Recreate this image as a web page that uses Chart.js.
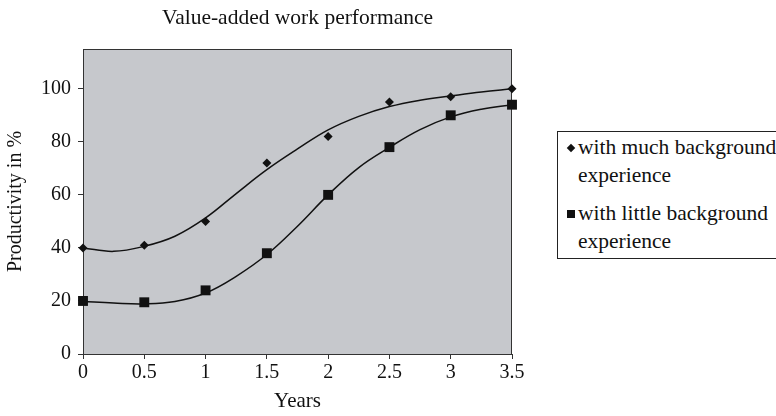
<!DOCTYPE html>
<html>
<head>
<meta charset="utf-8">
<title>Value-added work performance</title>
<script src="https://cdn.jsdelivr.net/npm/chart.js@4/dist/chart.umd.min.js"></script>
<style>
    body { margin: 0; background: #fff; }
    #wrap { position: relative; width: 776px; height: 416px; overflow: hidden; }
    #legend {
        position: absolute; left: 557px; top: 131px; width: 240px; height: 128px;
        border: 1px solid #222; box-sizing: border-box; background: #fff;
        font-family: "Liberation Serif", "Times New Roman", Times, "DejaVu Serif", serif;
        font-size: 21.5px; color: #111;
    }
    #legend .item { position: absolute; left: 20px; line-height: 28px; white-space: nowrap; }
    #legend .mark { position: absolute; background: #111; }
</style>
</head>
<body>
<div id="wrap">
    <canvas id="work-chart" width="776" height="416"></canvas>
    <div id="legend">
        <div class="mark" style="left:10px;top:13px;width:6px;height:6px;transform:rotate(45deg)"></div>
        <div class="item" style="top:1px">with much background<br>experience</div>
        <div class="mark" style="left:9px;top:78px;width:8px;height:8px"></div>
        <div class="item" style="top:67px">with little background<br>experience</div>
    </div>
</div>
<script>
// years on the x axis
var years = [0, 0.5, 1, 1.5, 2, 2.5, 3, 3.5];
// measured productivity (%)
var muchExp = [40, 41, 50, 72, 82, 95, 97, 100];
var littleExp = [20, 19.5, 24, 38, 60, 78, 90, 94];

// smoothed trend curves, read at quarter-year steps
var trendYears = [0, 0.25, 0.5, 0.75, 1, 1.25, 1.5, 1.75, 2, 2.25, 2.5, 2.75, 3, 3.25, 3.5];
var muchTrend = [40, 38.7, 40.6, 44.4, 51.3, 60.5, 69.5, 77.3, 84.5, 89.6, 93.3, 95.7, 97.3, 98.8, 100];
var littleTrend = [19.8, 19.2, 18.9, 19.8, 23, 29.3, 37.5, 48.2, 60, 70.3, 77.9, 84.6, 89.4, 92.3, 94];

var yTicks = [0, 20, 40, 60, 80, 100];
var serif = "'Liberation Serif', 'Times New Roman', Times, 'DejaVu Serif', serif";

function pairs(xs, ys) {
    return xs.map(function (x, i) { return { x: x, y: ys[i] }; });
}

// grey plot background, box border and the title above it
var plotFrame = {
    id: 'plotFrame',
    beforeDatasetsDraw: function (chart) {
        var a = chart.chartArea, ctx = chart.ctx;
        ctx.save();
        ctx.fillStyle = '#c6c8cc';
        ctx.fillRect(a.left, a.top, a.right - a.left, a.bottom - a.top);
        ctx.strokeStyle = '#333';
        ctx.lineWidth = 1;
        ctx.strokeRect(a.left + 0.5, a.top + 0.5, a.right - a.left - 1, a.bottom - a.top);
        ctx.restore();
    },
    afterDraw: function (chart) {
        var a = chart.chartArea, ctx = chart.ctx;
        ctx.save();
        ctx.fillStyle = '#111';
        ctx.font = '21.5px ' + serif;
        ctx.textAlign = 'center';
        ctx.textBaseline = 'middle';
        ctx.fillText('Value-added work performance', (a.left + a.right) / 2, 18);
        ctx.restore();
    }
};

new Chart('work-chart', {
    type: 'scatter',
    plugins: [plotFrame],
    data: {
        datasets: [{
            label: 'with much background experience',
            data: pairs(years, muchExp),
            pointStyle: 'rectRot',
            pointRadius: 4.5,
            backgroundColor: '#111',
            borderColor: '#111',
            borderWidth: 0,
            showLine: false,
            clip: false
        }, {
            label: 'with little background experience',
            data: pairs(years, littleExp),
            pointStyle: 'rect',
            pointRadius: 7,
            backgroundColor: '#111',
            borderColor: '#111',
            borderWidth: 0,
            showLine: false,
            clip: false
        }, {
            label: 'much trend',
            data: pairs(trendYears, muchTrend),
            showLine: true,
            tension: 0.4,
            pointRadius: 0,
            borderColor: '#111',
            borderWidth: 1.5
        }, {
            label: 'little trend',
            data: pairs(trendYears, littleTrend),
            showLine: true,
            tension: 0.4,
            pointRadius: 0,
            borderColor: '#111',
            borderWidth: 1.5
        }]
    },
    options: {
        responsive: false,
        animation: false,
        layout: { padding: { top: 49, right: 264, left: 0, bottom: 0 } },
        plugins: {
            legend: { display: false },
            tooltip: { enabled: false }
        },
        scales: {
            x: {
                type: 'linear',
                min: 0,
                max: 3.5,
                afterFit: function (scale) { scale.height = 62; },
                afterBuildTicks: function (scale) {
                    scale.ticks = years.map(function (v) { return { value: v }; });
                },
                ticks: {
                    color: '#111',
                    padding: 2,
                    maxRotation: 0,
                    font: { family: serif, size: 20 },
                    callback: function (v) { return String(v); }
                },
                grid: { drawOnChartArea: false, tickLength: 5, color: '#333' },
                border: { color: '#333' },
                title: {
                    display: true,
                    text: 'Years',
                    color: '#111',
                    font: { family: serif, size: 21 },
                    padding: { top: 0, bottom: 2 }
                }
            },
            y: {
                min: 0,
                max: 115,
                afterFit: function (scale) { scale.width = 83; },
                afterBuildTicks: function (scale) {
                    scale.ticks = yTicks.map(function (v) { return { value: v }; });
                },
                ticks: {
                    color: '#111',
                    padding: 7,
                    font: { family: serif, size: 20 }
                },
                grid: { drawOnChartArea: false, tickLength: 5, color: '#333' },
                border: { color: '#333' },
                title: {
                    display: true,
                    text: 'Productivity in %',
                    color: '#111',
                    font: { family: serif, size: 20 },
                    padding: { top: 4, bottom: 0 }
                }
            }
        }
    }
});
</script>
</body>
</html>
